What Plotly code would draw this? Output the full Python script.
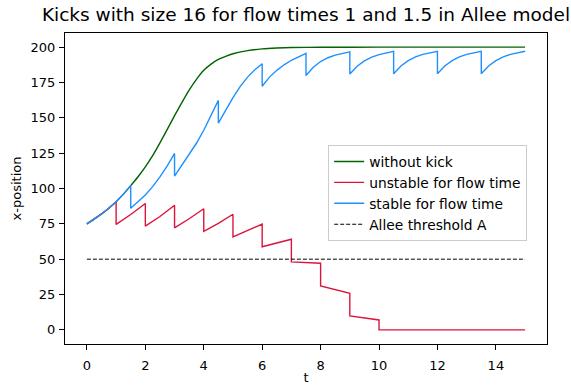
import plotly.graph_objects as go

# ---- data ----
green_t = [0, 0.25, 0.5, 0.75, 1, 1.25, 1.5, 1.75, 2, 2.25, 2.5, 2.75, 3, 3.25, 3.5, 3.75,
           4, 4.25, 4.5, 4.75, 5, 5.5, 6, 6.5, 7, 8, 10, 15]
green_y = [75, 78.3, 82, 86, 90.6, 96, 102, 108.3, 115.3, 123.2, 132.3, 141.8, 151.5, 160.8,
           169.6, 177.2, 183.6, 188, 191.3, 193.5, 195.3, 197.5, 198.8, 199.4, 199.7, 199.9, 200, 200]

red_t = [0, 0.25, 0.5, 0.75, 1,
         1, 1.5, 2,
         2, 2.5, 3,
         3, 3.5, 4,
         4, 4.5, 5,
         5, 5.5, 6,
         6, 6.5, 7,
         7, 7.5, 8,
         8, 8.5, 9,
         9, 9.5, 10,
         10, 15]
red_y = [75, 78.3, 82, 86, 90.6,
         74.6, 81.6, 89.4,
         73.4, 80.2, 88.2,
         72.2, 78.6, 85.7,
         69.7, 75.4, 81.8,
         65.8, 70.1, 74.8,
         58.8, 61.4, 64.1,
         48.1, 47.7, 47.1,
         31.1, 28.6, 25.9,
         9.9, 8.3, 7.0,
         0, 0]

blue_t = [0, 0.25, 0.5, 0.75, 1, 1.25, 1.5,
          1.5, 1.75, 2, 2.25, 2.5, 2.75, 3,
          3, 3.25, 3.5, 3.75, 4, 4.25, 4.5,
          4.5, 4.75, 5, 5.25, 5.5, 5.75, 6,
          6, 6.25, 6.5, 6.75, 7, 7.25, 7.5,
          7.5, 7.75, 8, 8.25, 8.5, 8.75, 9,
          9, 9.25, 9.5, 9.75, 10, 10.25, 10.5,
          10.5, 10.75, 11, 11.25, 11.5, 11.75, 12,
          12, 12.25, 12.5, 12.75, 13, 13.25, 13.5,
          13.5, 13.75, 14, 14.25, 14.5, 14.75, 15]
blue_y = [75, 78.3, 82, 86, 90.6, 96, 102,
          86, 90.4, 95.4, 101.3, 108.2, 116, 124.8,
          108.8, 116.5, 123.8, 132, 141.2, 151.2, 162.3,
          146.3, 155.5, 164.3, 172.3, 178.8, 184, 188.3,
          172.3, 178.8, 183.6, 187.5, 190.7, 193.1, 195.6,
          180, 185.8, 189.8, 192.5, 194.3, 195.6, 196.6,
          181, 186.5, 190.3, 192.9, 194.7, 196, 197,
          181.2, 186.7, 190.5, 193.1, 194.9, 196.1, 197.1,
          181.2, 186.7, 190.5, 193.1, 194.9, 196.1, 197.1,
          181.2, 186.7, 190.5, 193.1, 194.9, 196.1, 197.1]

allee_t = [0, 15]
allee_y = [50, 50]

x_ticks = [0, 2, 4, 6, 8, 10, 12, 14]
y_ticks = [0, 25, 50, 75, 100, 125, 150, 175, 200]

FONT = "DejaVu Sans"

fig = go.Figure()
fig.add_trace(go.Scatter(x=green_t, y=green_y, mode="lines", name="without kick",
                         line=dict(color="#006400", width=1.4, shape="spline", smoothing=0.6)))
fig.add_trace(go.Scatter(x=red_t, y=red_y, mode="lines", name="unstable for flow time",
                         line=dict(color="#DC143C", width=1.4)))
fig.add_trace(go.Scatter(x=blue_t, y=blue_y, mode="lines", name="stable for flow time",
                         line=dict(color="#1E90FF", width=1.4)))
fig.add_trace(go.Scatter(x=allee_t, y=allee_y, mode="lines", name="Allee threshold A",
                         line=dict(color="black", width=1, dash="4px,2px")))

axis_common = dict(showline=True, linecolor="black", linewidth=1, mirror=True,
                   ticks="outside", ticklen=5, tickwidth=1, tickcolor="black",
                   showgrid=False, zeroline=False, automargin=False,
                   tickfont=dict(family=FONT, size=13, color="black"))

fig.update_layout(
    width=571, height=385,
    margin=dict(l=65, r=24, t=33, b=41),
    paper_bgcolor="white", plot_bgcolor="white",
    title=dict(text="Kicks with size 16 for flow times 1 and 1.5 in Allee model",
               x=(65 + 547) / 2 / 571, xanchor="center", y=0.962, yanchor="middle",
               font=dict(family=FONT, size=18.5, color="black")),
    xaxis=dict(range=[-0.75, 15.75], tickvals=x_ticks, ticklabelstandoff=4,
               title=dict(text="t", font=dict(family=FONT, size=13, color="black"), standoff=7),
               **axis_common),
    yaxis=dict(range=[-10, 210], tickvals=y_ticks, ticklabelstandoff=1,
               title=dict(text="x-position", font=dict(family=FONT, size=13, color="black"), standoff=6),
               **axis_common),
    legend=dict(x=0.546, y=0.64, xanchor="left", yanchor="top",
                bgcolor="white", bordercolor="#cccccc", borderwidth=1,
                font=dict(family=FONT, size=13.8, color="black"),
                itemwidth=30, tracegroupgap=0),
    showlegend=True,
)

fig.write_html("out.html")
